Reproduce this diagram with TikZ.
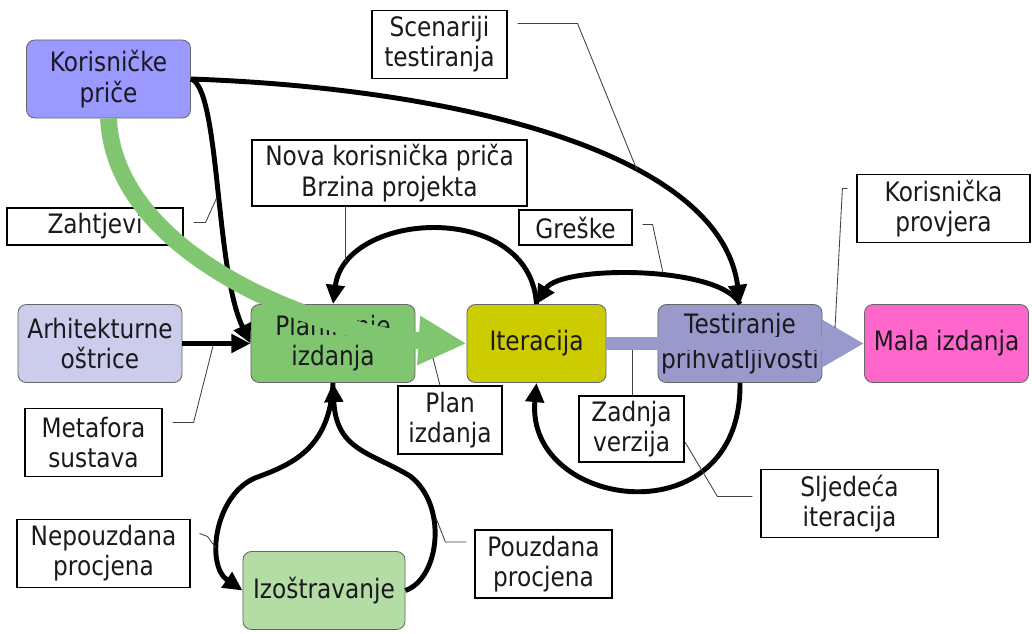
\documentclass[tikz,border=0pt]{standalone}
\usepackage{fontspec}
\setmainfont{DejaVu Sans}[FakeStretch=0.87]
\usepackage{tikz}
\usetikzlibrary{arrows.meta, positioning}
\definecolor{storyblue}{RGB}{153,153,255}
\definecolor{archlilac}{RGB}{204,204,236}
\definecolor{plangreen}{RGB}{128,198,112}
\definecolor{iterolive}{RGB}{204,204,0}
\definecolor{testlilac}{RGB}{153,153,204}
\definecolor{releasepink}{RGB}{255,102,204}
\definecolor{spikegreen}{RGB}{180,220,165}
\definecolor{inkdark}{RGB}{25,25,30}
\newcommand{\dfont}{\fontsize{19}{21.5}\selectfont}
\tikzset{
  stage/.style={rectangle, rounded corners=6pt, draw=black!60, line width=0.6pt,
    minimum width=4.1cm, minimum height=1.95cm, align=center,
    font=\dfont, text=inkdark, inner sep=1pt},
  note/.style={rectangle, draw=black, fill=white, line width=0.8pt,
    align=center, font=\dfont, text=inkdark, inner sep=1pt, minimum height=1.72cm},
  flow/.style={-{Triangle[length=0.48cm,width=0.45cm]}, line width=3.5pt, color=black},
  greenband/.style={-{Triangle[length=1.2cm,width=1.15cm]}, line width=0.42cm, color=plangreen},
  lilacband/.style={-{Triangle[length=1.05cm,width=1.12cm]}, line width=0.34cm, color=testlilac},
  leader/.style={black!75, line width=0.6pt}
}

\begin{document}
\begin{tikzpicture}[x=0.025cm, y=-0.025cm]
  \useasboundingbox[fill=white] (0,0) rectangle (1032,633);

  % Stages
  \node[stage, fill=storyblue] (kp) at (108.5,79) {Korisničke\\priče};
  \node[stage, fill=archlilac] (arh) at (100,343.5) {Arhitekturne\\oštrice};
  \node[stage, fill=plangreen] (plan) at (333,343.5) {Planiranje\\izdanja};
  \node[stage, fill=iterolive, minimum width=3.475cm] (iter) at (536.5,343.5) {Iteracija};
  \node[stage, fill=testlilac] (test) at (740,343.5) {Testiranje\\[3pt]prihvatljivosti};
  \node[stage, fill=releasepink] (mala) at (946.5,343.5) {Mala izdanja};
  \node[stage, fill=spikegreen, minimum width=4.05cm] (izo) at (324,590.5) {Izoštravanje};

  % Black flows
  \draw[flow] (kp.east) .. controls (220,88) and (215,270) .. (plan.west);
  \draw[flow] (kp.east) .. controls (450,88) and (720,150) .. (test.north);
  \draw[flow] (arh.east) -- (plan.west);
  \draw[flow] (iter.north) .. controls (530,200) and (345,210) .. (plan.north);
  \draw[flow] (test.north) .. controls (720,265) and (560,265) .. (iter.north);
  \draw[flow] (test.south) .. controls (742,540) and (525,510) .. (iter.south);
  \draw[flow] (plan.south) .. controls (330,450) and (290,465) .. (255,478)
    .. controls (215,495) and (205,565) .. (izo.west);
  \draw[flow] (izo.east) .. controls (440,578) and (448,505) .. (410,476)
    .. controls (370,452) and (336,450) .. (plan.south);

  % Labels
  \node[note, minimum width=4.4cm, minimum height=0.925cm] (zaht) at (95,226.5) {Zahtjevi};
  \node[note, minimum width=6.875cm, minimum height=1.65cm] (nova) at (389.5,173) {Nova korisnička priča\\Brzina projekta};
  \node[note, minimum width=3.375cm] (scen) at (439.5,44.5) {Scenariji\\testiranja};
  \node[note, minimum width=2.825cm, minimum height=0.875cm] (gre) at (575.5,227.5) {Greške};
  \node[note, minimum width=4.325cm] (prov) at (943.5,208.5) {Korisnička\\provjera};
  \node[note, minimum width=3.425cm] (meta) at (93.5,442.5) {Metafora\\sustava};
  \node[note, minimum width=2.6cm, minimum height=1.7cm] (planlab) at (450,420) {Plan\\izdanja};
  \node[note, minimum width=2.625cm, minimum height=1.65cm] (zad) at (631.5,429) {Zadnja\\verzija};
  \node[note, minimum width=4.425cm] (slj) at (849.5,503.5) {Sljedeća\\iteracija};
  \node[note, minimum width=4.325cm] (nep) at (103.5,553.5) {Nepouzdana\\procjena};
  \node[note, minimum width=3.425cm, minimum height=1.7cm] (pouz) at (543.5,564) {Pouzdana\\procjena};

  % Wide bands
  \draw[greenband] (kp.south) .. controls (115,260) and (330,335) .. (iter.west);
  \draw[lilacband] (iter.east) -- (mala.west);

  % Leader lines
  \coordinate (t-zaht) at (217,197);
  \coordinate (t-nova) at (345,262);
  \coordinate (t-scen) at (637,170);
  \coordinate (t-gre) at (663,273);
  \coordinate (t-prov) at (835,328);
  \coordinate (t-meta) at (213,346);
  \coordinate (t-planlab) at (433,358);
  \coordinate (t-zad) at (632,350);
  \coordinate (t-slj) at (685,442);
  \coordinate (t-nep) at (216,548);
  \coordinate (t-pouz) at (436,518);
  \draw[leader] ([shift={(10,-4)}]zaht.east) -- ++(12,0) -- (t-zaht);
  \draw[leader] (nova.south -| t-nova) -- (t-nova);
  \draw[leader] ([shift={(10,-21)}]scen.east) -- ++(60,0) -- (t-scen);
  \draw[leader] ([shift={(10,-3)}]gre.east) -- ++(10,0) -- (t-gre);
  \draw[leader] ([shift={(-9,-20)}]prov.west) -- ++(-5,0) -- (t-prov);
  \draw[leader] ([shift={(10,-20)}]meta.east) -- ++(21,0) -- (t-meta);
  \draw[leader] ([shift={(-10,0)}]planlab.north) -- (t-planlab);
  \draw[leader] (zad.north -| t-zad) -- (t-zad);
  \draw[leader] ([shift={(-8,-7)}]slj.west) -- ++(-35,0) -- (t-slj);
  \draw[leader] ([shift={(9,-20)}]nep.east) -- ++(8,3) -- (t-nep);
  \draw[leader] ([shift={(-8,-22)}]pouz.west) -- ++(-21,0) -- (t-pouz);
\end{tikzpicture}
\end{document}
